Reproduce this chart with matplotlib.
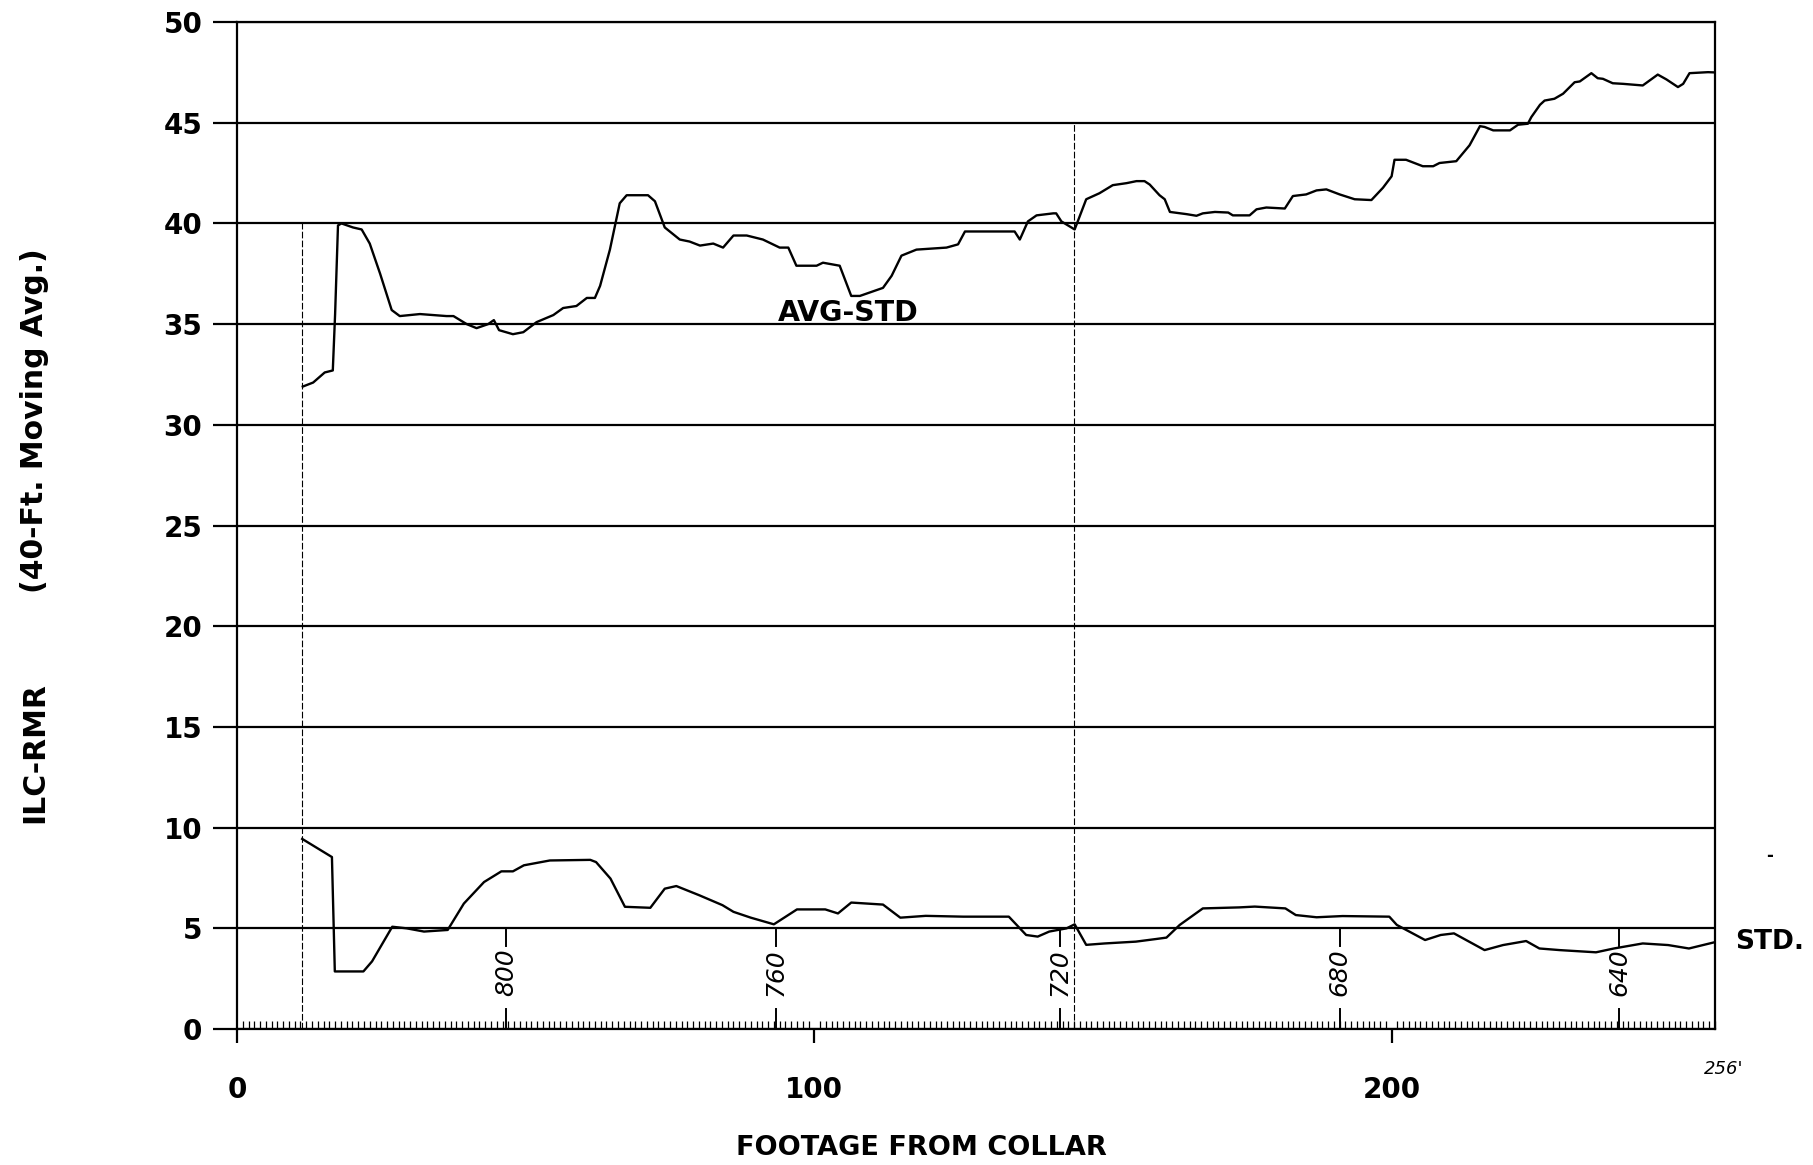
import matplotlib
matplotlib.use("Agg")
import matplotlib.pyplot as plt
from matplotlib.ticker import MultipleLocator

# AVG-STD curve (ILC-RMR, 40-ft moving average)
avg_x = [11.4, 13.2, 15.2, 16.6, 17.0, 17.5, 18.1, 20.1, 21.6, 23.0, 24.8, 26.8,
         28.2, 31.7, 36.3, 37.5, 39.8, 41.5, 43.5, 44.5, 45.4, 47.8, 49.6, 51.9,
         54.8, 56.5, 58.8, 60.6, 62.0, 62.9, 64.6, 66.3, 67.5, 71.2, 72.4, 74.1,
         76.7, 78.4, 80.2, 82.5, 84.2, 86.0, 88.3, 91.1, 94.0, 95.5, 96.9, 100.4,
         101.5, 104.4, 106.4, 107.9, 111.9, 113.4, 115.1, 117.7, 122.9, 124.9,
         126.1, 134.7, 135.6, 137.0, 138.5, 141.4, 141.9, 142.8, 145.1, 147.1,
         149.4, 151.7, 154.1, 155.8, 157.2, 158.1, 159.8, 160.7, 161.6, 164.5,
         166.2, 167.3, 169.4, 171.7, 172.5, 175.4, 176.6, 178.3, 181.5, 182.9,
         185.2, 187.0, 188.7, 191.0, 193.6, 196.5, 198.5, 200.0, 200.5, 202.5,
         205.4, 207.2, 208.3, 211.2, 213.5, 215.3, 216.1, 217.6, 220.5, 221.9,
         223.6, 224.2, 225.7, 226.5, 228.2, 229.7, 231.7, 232.6, 234.6, 235.7,
         236.6, 238.3, 240.1, 243.5, 244.7, 246.1, 247.6, 249.6, 250.5, 251.6,
         254.8, 255.7]
avg_y = [31.9, 32.1, 32.6, 32.7, 35.5, 39.9, 40.0, 39.8, 39.7, 39.0, 37.5, 35.7,
         35.4, 35.5, 35.4, 35.4, 35.0, 34.8, 35.0, 35.2, 34.7, 34.5, 34.6, 35.1,
         35.45, 35.8, 35.9, 36.3, 36.3, 36.9, 38.7, 41.0, 41.4, 41.4, 41.1, 39.8,
         39.2, 39.1, 38.9, 39.0, 38.8, 39.4, 39.4, 39.2, 38.8, 38.8, 37.9, 37.9,
         38.05, 37.9, 36.4, 36.4, 36.8, 37.4, 38.4, 38.7, 38.8, 38.96,
         39.6, 39.6, 39.2, 40.1, 40.4, 40.5, 40.5, 40.1, 39.7, 41.2,
         41.5, 41.9, 42.0, 42.1, 42.1, 41.93, 41.4, 41.2, 40.57, 40.46,
         40.38, 40.5, 40.57, 40.54, 40.4, 40.4, 40.7, 40.79, 40.74, 41.36,
         41.44, 41.64, 41.69, 41.44, 41.2, 41.16, 41.77, 42.34, 43.16, 43.16,
         42.84, 42.84, 43.0, 43.09, 43.88, 44.83, 44.79, 44.62, 44.62, 44.9,
         44.95, 45.28, 45.89, 46.1, 46.19, 46.44, 47.01, 47.05, 47.46, 47.21,
         47.18, 46.96, 46.93, 46.85, 47.1, 47.39, 47.15, 46.77, 46.93, 47.46,
         47.51, 47.5]

# STD curve
std_x = [11.3, 16.45, 16.95, 21.9, 23.4, 26.9, 29.4, 32.4, 36.5, 39.3, 42.8,
         45.8, 47.8, 49.7, 54.2, 61.2, 62.2, 64.7, 67.2, 71.6, 74.1, 76.1, 80.1,
         84.1, 86.0, 89.0, 93.0, 97.0, 101.9, 104.1, 106.4, 111.9, 114.9, 119.3,
         125.8, 133.7, 136.7, 138.7, 140.7, 143.7, 145.1, 147.1, 150.3, 155.7,
         159.2, 161.0, 163.3, 167.3, 173.6, 176.3, 181.6, 183.4, 187.0, 191.5,
         199.6, 200.9, 205.8, 208.5, 210.8, 216.1, 219.3, 223.3, 225.6, 229.1,
         235.4, 238.5, 243.5, 247.9, 251.5, 255.8]
std_y = [9.44, 8.54, 2.86, 2.86, 3.36, 5.08, 5.0, 4.84, 4.92, 6.23, 7.3,
         7.83, 7.83, 8.13, 8.37, 8.4, 8.29, 7.47, 6.07, 6.02, 6.97, 7.1, 6.64,
         6.15, 5.82, 5.53, 5.2, 5.94, 5.94, 5.74, 6.28, 6.18, 5.53, 5.62,
         5.58, 5.58, 4.67, 4.59, 4.84, 5.0, 5.2, 4.18, 4.25, 4.34,
         4.47, 4.54, 5.17, 5.99, 6.04, 6.08, 5.99, 5.66, 5.55, 5.61,
         5.58, 5.17, 4.42, 4.67, 4.75, 3.92, 4.17, 4.37, 4.0, 3.92,
         3.81, 4.0, 4.25, 4.17, 4.0, 4.3]

# handwritten station marks (tunnel stations, ft)
station_x = [46.6, 93.3, 142.5, 191.0, 239.4]
station_labels = ["800", "760", "720", "680", "640"]

# thin dashed reference lines
cut_x = [11.3, 144.9]
cut_top = [40, 45]

y_ticks = list(range(0, 51, 5))
x_ticks = [0, 100, 200]

plt.rcParams['font.family'] = ['DejaVu Sans']

fig = plt.figure(figsize=(18.13, 11.65), dpi=100)
ax = fig.add_axes([0.1307, 0.1167, 0.8152, 0.8644])

ax.plot(avg_x, avg_y, color='black', lw=1.7, solid_joinstyle='round')
ax.plot(std_x, std_y, color='black', lw=1.7, solid_joinstyle='round')

for cx, ct in zip(cut_x, cut_top):
    ax.plot([cx, cx], [0, ct], color='black', lw=0.8, ls=(0, (6, 2)))

for sx, lab in zip(station_x, station_labels):
    ax.plot([sx, sx], [0, 1.0], color='black', lw=1.4)
    ax.plot([sx, sx], [4.1, 5.0], color='black', lw=1.4)
    ax.text(sx, 2.8, lab, rotation=90, ha='center', va='center',
            fontsize=18, style='italic', fontweight='light')

ax.set_xlim(0, 256)
ax.set_ylim(0, 50)
ax.set_yticks(y_ticks)
ax.set_xticks(x_ticks)
ax.xaxis.set_minor_locator(MultipleLocator(1))
ax.yaxis.grid(True, color='black', lw=1.6)
ax.set_axisbelow(True)

for side in ['left', 'right', 'top', 'bottom']:
    ax.spines[side].set_linewidth(1.6)

ax.tick_params(axis='y', direction='out', length=17, width=1.6, pad=8,
               labelsize=20)
ax.tick_params(axis='x', which='major', direction='out', length=10, width=1.6,
               pad=24, labelsize=20)
ax.tick_params(axis='x', which='minor', direction='in', length=6, width=0.9)
for lab in ax.get_xticklabels() + ax.get_yticklabels():
    lab.set_fontweight('bold')

ax.text(105.8, 34.85, "AVG-STD", ha='center', va='bottom', fontsize=20.5,
        fontweight='bold')
ax.text(259.5, 4.3, "STD.", ha='left', va='center', fontsize=19,
        fontweight='bold', clip_on=False)
ax.text(257.5, -2.0, "256'", ha='center', va='center', fontsize=13,
        style='italic', clip_on=False)
ax.text(265.5, 8.6, "-", ha='center', va='center', fontsize=12,
        fontweight='bold', clip_on=False)

fig.text(0.508, 0.0146, "FOOTAGE FROM COLLAR", ha='center', va='center',
         fontsize=19.5, fontweight='bold')
fig.text(0.019, 0.354, "ILC-RMR", rotation=90, ha='center', va='center',
         fontsize=21.5, fontweight='bold')
fig.text(0.019, 0.639, "(40-Ft. Moving Avg.)", rotation=90, ha='center',
         va='center', fontsize=21.5, fontweight='bold')

fig.savefig("out.png", dpi=100, facecolor='white')
